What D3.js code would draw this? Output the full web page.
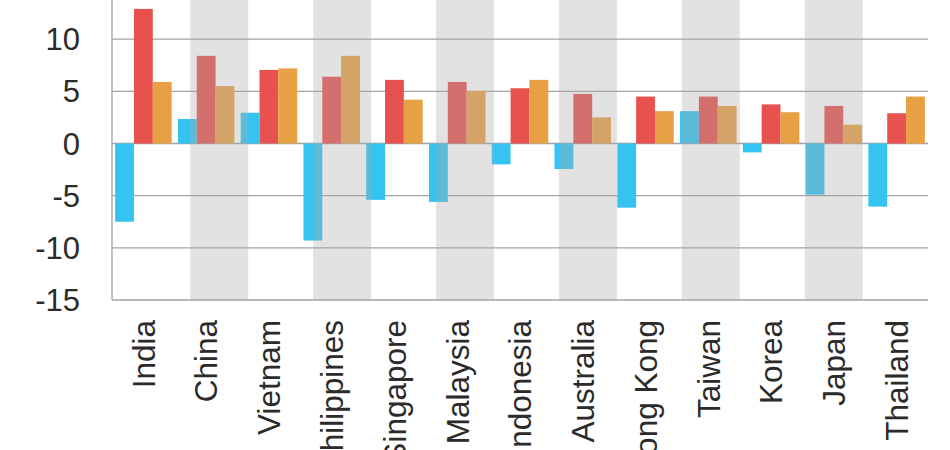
<!DOCTYPE html>
<html>
<head>
<meta charset="utf-8">
<script src="https://cdn.jsdelivr.net/npm/d3@7"></script>
<style>
  body { margin: 0; background: #fff; }
  svg { display: block; font-family: "Liberation Sans", Arial, sans-serif; }
</style>
</head>
<body>
<div id="chart"></div>
<script>
const countries = ["India", "China", "Vietnam", "Philippines", "Singapore", "Malaysia",
  "Indonesia", "Australia", "Hong Kong", "Taiwan", "Korea", "Japan", "Thailand"];
const seriesBlue = [-7.5, 2.35, 2.95, -9.3, -5.4, -5.6, -2.0, -2.45, -6.15, 3.1, -0.85, -4.9, -6.05];
const seriesRed = [12.9, 8.4, 7.05, 6.4, 6.1, 5.9, 5.3, 4.75, 4.5, 4.5, 3.75, 3.6, 2.9];
const seriesOrange = [5.9, 5.5, 7.2, 8.4, 4.2, 5.05, 6.1, 2.5, 3.1, 3.6, 3.0, 1.8, 4.5];
const yTicks = [-15, -10, -5, 0, 5, 10, 15];
const seriesKeys = ["blue", "red", "orange"];
const colors = { blue: "#35c4f2", red: "#e8524e", orange: "#e8a045" };

const w = 950, h = 450;
const svg = d3.select("#chart").append("svg")
  .attr("width", w)
  .attr("height", h);

// x scale for groups
const x = d3.scaleBand()
  .domain(countries)
  .range([112, 928])
  .paddingInner(0.1)
  .paddingOuter(0.05);

const xSub = d3.scaleBand()
  .domain(seriesKeys)
  .range([0, x.bandwidth()]);

// shading bands sit a bit off the groups in the original
const xShade = d3.scaleBand()
  .domain(countries)
  .range([127, 926])
  .paddingInner(0.057)
  .paddingOuter(0.03);

const y = d3.scaleLinear().domain([-15, 15]).range([300, -13]);

// gridlines
svg.append("g")
  .selectAll("line")
  .data(yTicks)
  .join("line")
  .attr("x1", 112)
  .attr("x2", 928)
  .attr("y1", (d) => y(d))
  .attr("y2", (d) => y(d))
  .attr("stroke", "#a3a3a3")
  .attr("stroke-width", 1.3);

// left axis line
svg.append("line")
  .attr("x1", 112).attr("x2", 112)
  .attr("y1", 0).attr("y2", y(-15))
  .attr("stroke", "#a3a3a3")
  .attr("stroke-width", 1.3);

// bars
const rows = countries.map((c, i) => ({
  country: c,
  values: [
    { key: "blue", value: seriesBlue[i] },
    { key: "red", value: seriesRed[i] },
    { key: "orange", value: seriesOrange[i] },
  ],
}));

svg.append("g")
  .selectAll("g")
  .data(rows)
  .join("g")
  .attr("transform", (d) => `translate(${x(d.country)}, 0)`)
  .selectAll("rect")
  .data((d) => d.values)
  .join("rect")
  .attr("x", (d) => xSub(d.key))
  .attr("width", xSub.bandwidth())
  .attr("y", (d) => y(Math.max(0, d.value)))
  .attr("height", (d) => Math.abs(y(d.value) - y(0)))
  .attr("fill", (d) => colors[d.key]);

// translucent grey bands over every other country
svg.append("g")
  .selectAll("rect")
  .data(countries.filter((c, i) => i % 2 === 1))
  .join("rect")
  .attr("x", (d) => xShade(d))
  .attr("width", xShade.bandwidth())
  .attr("y", 0)
  .attr("height", y(-15))
  .attr("fill", "#aaaaaa")
  .attr("opacity", 0.34);

// y labels
svg.append("g")
  .selectAll("text")
  .data(yTicks)
  .join("text")
  .attr("x", 80)
  .attr("y", (d) => y(d))
  .attr("dy", "0.36em")
  .attr("text-anchor", "end")
  .attr("fill", "#2b2b2b")
  .style("font-size", "31px")
  .text((d) => d);

// category labels, rotated
svg.append("g")
  .selectAll("text")
  .data(countries)
  .join("text")
  .attr("transform", (d) => `translate(${x(d) + x.bandwidth() / 2}, 320) rotate(-90)`)
  .attr("dy", "0.36em")
  .attr("text-anchor", "end")
  .attr("fill", "#2b2b2b")
  .style("font-size", "31.5px")
  .text((d) => d);
</script>
</body>
</html>
